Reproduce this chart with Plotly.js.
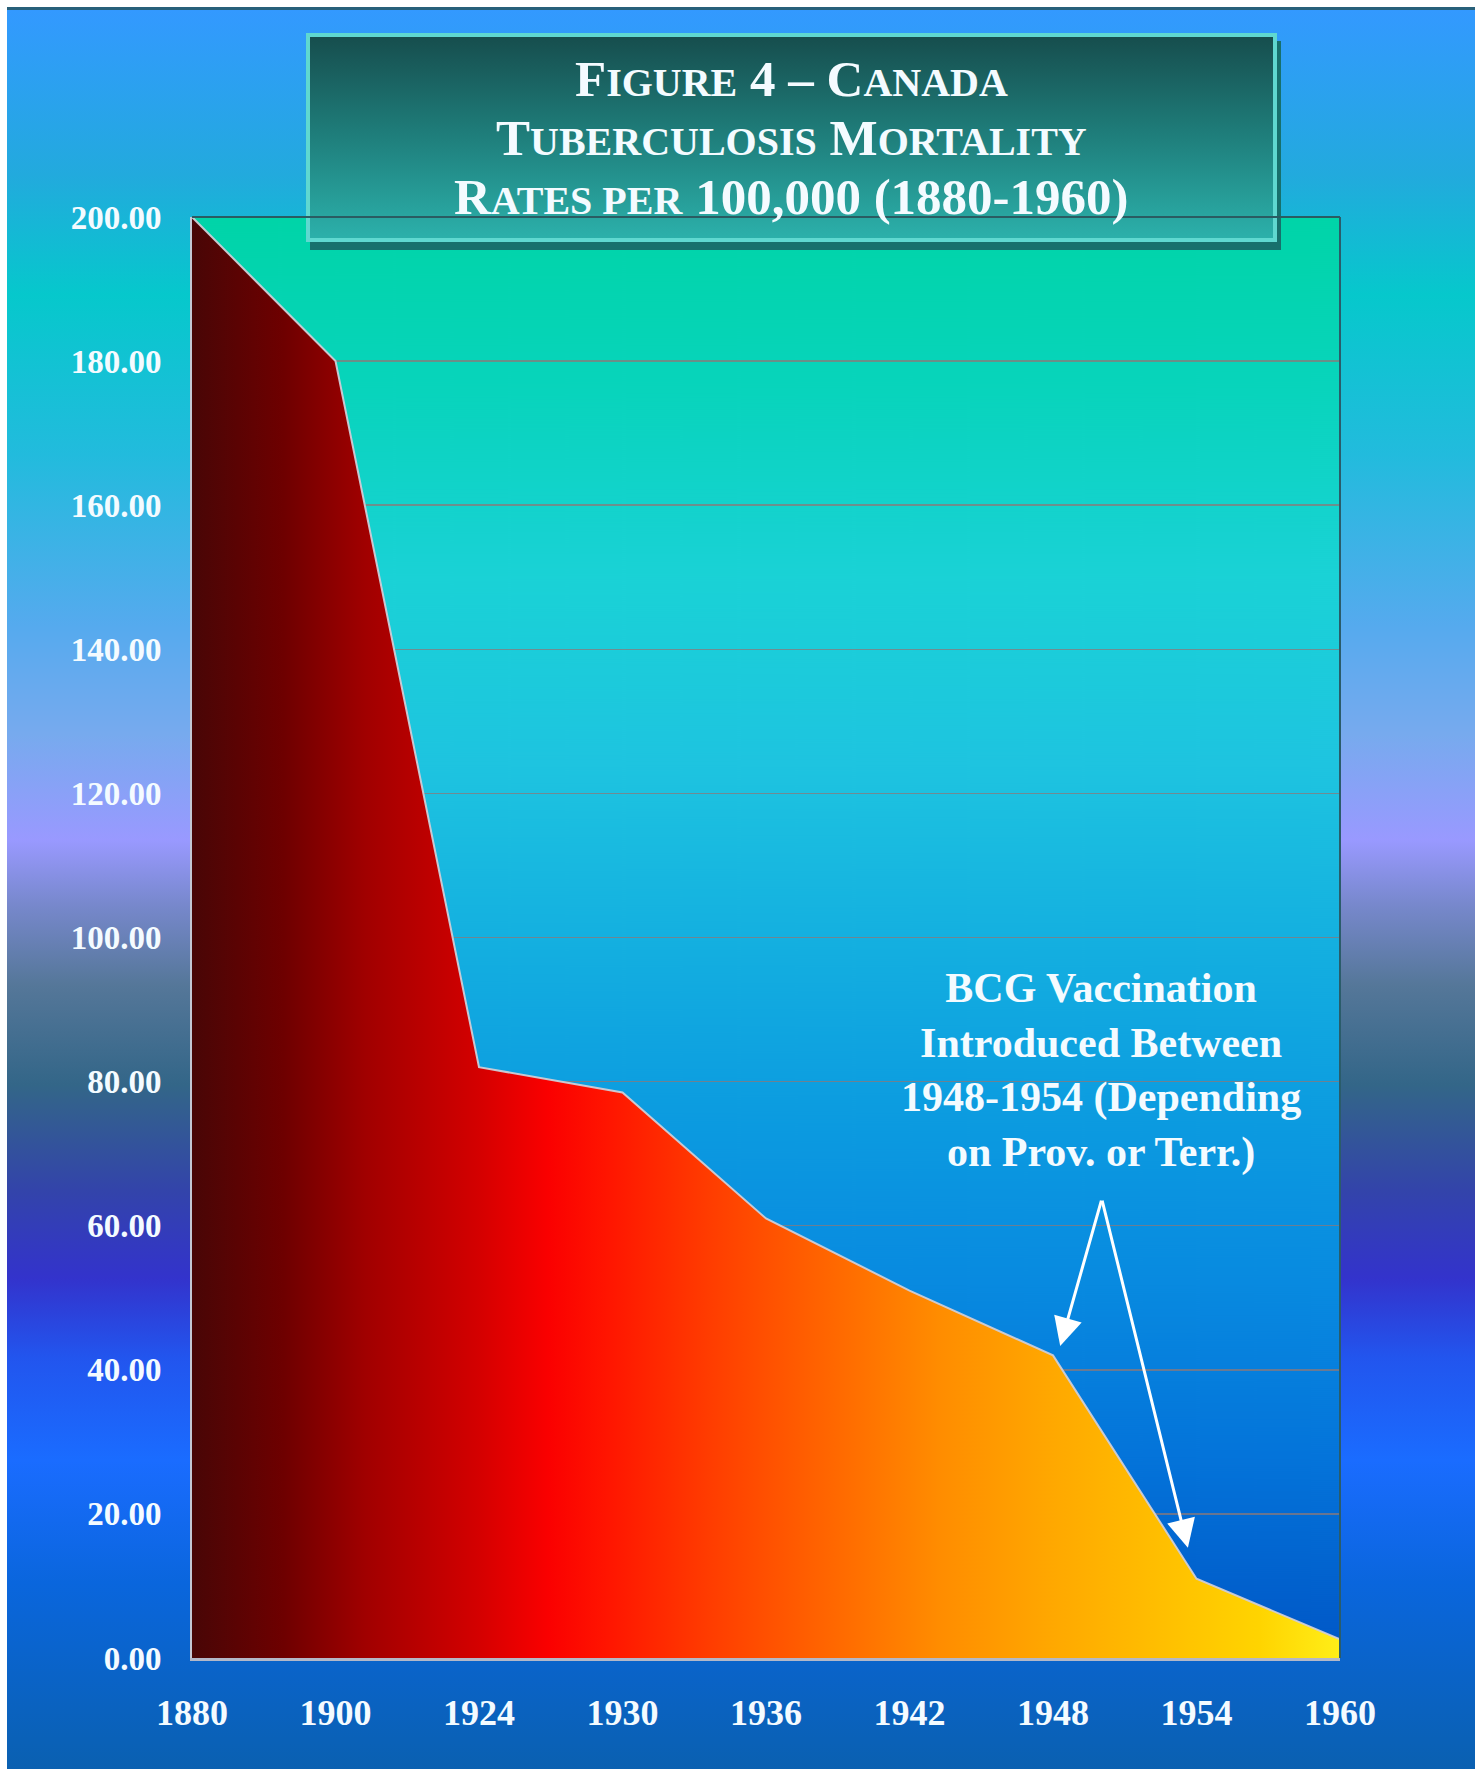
<!DOCTYPE html>
<html>
<head>
<meta charset="utf-8">
<script src="https://cdn.plot.ly/plotly-3.0.1.min.js"></script>
<style>
  html, body { margin:0; padding:0; background:#ffffff; overflow:hidden; }
  #bg {
    position:absolute; left:7px; top:7px; width:1468px; height:1762px;
    border-top:3px solid #28607a; box-sizing:border-box;
    background: linear-gradient(to bottom,
      #3399ff 0px, #22aadd 165px, #06c8cc 285px, #22bbdd 445px, #55aaee 615px,
      #77aaee 725px, #9999ff 830px, #7788cc 895px, #557799 975px, #336688 1075px,
      #3344aa 1180px, #3333cc 1268px, #2255ee 1347px, #1a6cff 1450px,
      #0a66dd 1573px, #0a60b0 1762px);
  }
  #chart { position:absolute; left:0; top:0; width:1475px; height:1769px; }
</style>
</head>
<body>
<div id="bg"></div>
<div id="chart"></div>
<script>
// ---- data ----
const years = ['1880', '1900', '1924', '1930', '1936', '1942', '1948', '1954', '1960'];
const rates = [200, 180, 82, 78.5, 61, 51, 42, 11, 2.6];

const titleLines = [
  "F<span style='font-size:40px'>IGURE</span> 4 – C<span style='font-size:40px'>ANADA</span>",
  "T<span style='font-size:40px'>UBERCULOSIS</span> M<span style='font-size:40px'>ORTALITY</span>",
  "R<span style='font-size:40px'>ATES PER</span> 100,000 (1880-1960)"
];
const noteText = 'BCG Vaccination<br>Introduced Between<br>1948-1954 (Depending<br>on Prov. or Terr.)';

// arrow geometry (category index, value)
const arrowApex = [6.34, 63.7];
const arrowTips = [[6.05, 43.3], [6.94, 15.3]];

// ---- layout geometry (px) ----
const W = 1475, H = 1769;
const PL = 192, PR = 1340, PT = 217, PB = 1658;
const pw = PR - PL, ph = PB - PT;
const px2x = X => (X - PL) / pw;
const px2y = Y => (PB - Y) / ph;

// plot-area gradient image
function plotBg() {
  const c = document.createElement('canvas');
  c.width = 20; c.height = ph;
  const g = c.getContext('2d');
  const gr = g.createLinearGradient(0, 0, 0, ph);
  gr.addColorStop(0.00, '#00d4a8');
  gr.addColorStop(0.12, '#08d4bc');
  gr.addColorStop(0.25, '#1ad2d6');
  gr.addColorStop(0.38, '#1ec4e0');
  gr.addColorStop(0.50, '#14b0e0');
  gr.addColorStop(0.62, '#0c9ce0');
  gr.addColorStop(0.74, '#088ae0');
  gr.addColorStop(0.86, '#0474da');
  gr.addColorStop(1.00, '#0056c6');
  g.fillStyle = gr; g.fillRect(0, 0, 20, ph);
  return c.toDataURL();
}

// title box image
const TB = {x0: 306, x1: 1277, y0: 33, y1: 242, sh: 8};
function titleBox() {
  const w = TB.x1 - TB.x0 + 4, h = TB.y1 - TB.y0 + TB.sh;
  const c = document.createElement('canvas');
  c.width = w; c.height = h;
  const g = c.getContext('2d');
  g.fillStyle = '#17706c';
  g.fillRect(4, TB.sh, w - 4, h - TB.sh);
  const bw = w - 4, bh = TB.y1 - TB.y0;
  const gr = g.createLinearGradient(0, 0, 0, bh);
  gr.addColorStop(0, '#164c4c');
  gr.addColorStop(0.5, '#1f7f7c');
  gr.addColorStop(1, '#2cb2ac');
  g.fillStyle = gr; g.fillRect(0, 0, bw, bh);
  g.strokeStyle = '#5fd8d0'; g.lineWidth = 4;
  g.strokeRect(2, 2, bw - 4, bh - 4);
  return c.toDataURL();
}

const trace = {
  x: years,
  y: rates,
  type: 'scatter',
  mode: 'lines',
  fill: 'tozeroy',
  line: {color: 'rgba(205,205,215,0.95)', width: 2},
  fillgradient: {
    type: 'horizontal',
    colorscale: [
      [0.00, '#480606'], [0.08, '#6e0000'], [0.15, '#a00000'], [0.25, '#d40000'],
      [0.31, '#fa0000'], [0.36, '#ff1400'], [0.45, '#ff3c00'], [0.55, '#ff6400'],
      [0.65, '#ff8c00'], [0.75, '#ffa800'], [0.85, '#ffc000'], [0.93, '#ffd400'],
      [1.00, '#ffee18']
    ]
  },
  hoverinfo: 'skip'
};

const serif = 'Liberation Serif, Times New Roman, serif';
const white = '#f4fbff';

const annotations = [];
const lineY = [79, 138, 197];
titleLines.forEach((t, i) => {
  annotations.push({
    text: '<b>' + t + '</b>', xref: 'paper', yref: 'paper',
    x: px2x((TB.x0 + TB.x1) / 2), y: px2y(lineY[i]),
    xanchor: 'center', yanchor: 'middle', showarrow: false,
    font: {family: serif, size: 51, color: white}
  });
});
annotations.push({
  text: '<b>' + noteText + '</b>', xref: 'paper', yref: 'paper',
  x: px2x(1101), y: px2y(1070), xanchor: 'center', yanchor: 'middle',
  showarrow: false, align: 'center',
  font: {family: serif, size: 42, color: white}
});
arrowTips.forEach(tp => {
  annotations.push({
    text: '', xref: 'x', yref: 'y', axref: 'x', ayref: 'y',
    x: tp[0], y: tp[1], ax: arrowApex[0], ay: arrowApex[1],
    showarrow: true, arrowhead: 2, arrowsize: 1.9, arrowwidth: 3,
    arrowcolor: '#ffffff', standoff: 0, startstandoff: 0
  });
});

const layout = {
  width: W, height: H,
  margin: {l: PL, r: W - PR, t: PT, b: H - PB, pad: 0},
  paper_bgcolor: 'rgba(0,0,0,0)',
  plot_bgcolor: 'rgba(0,0,0,0)',
  showlegend: false,
  xaxis: {
    type: 'category', range: [0, 8], showgrid: false, zeroline: false,
    showline: true, linecolor: '#b4b8c8', linewidth: 3,
    ticks: '', ticklabelstandoff: 21,
    tickfont: {family: serif, size: 36, color: white, weight: 'bold'}
  },
  yaxis: {
    range: [0, 200], dtick: 20, tick0: 0, tickformat: '.2f',
    showgrid: true, gridcolor: 'rgba(140,120,120,0.75)', gridwidth: 1.5,
    zeroline: false, showline: true, linecolor: '#c4c8d4', linewidth: 2,
    ticks: '', ticklabelstandoff: 22,
    tickfont: {family: serif, size: 33, color: white, weight: 'bold'}
  },
  shapes: [
    {type: 'line', xref: 'paper', yref: 'paper', x0: 0, x1: 1, y0: 1, y1: 1,
     line: {color: '#2a5c62', width: 2}},
    {type: 'line', xref: 'paper', yref: 'paper', x0: 1, x1: 1, y0: 0, y1: 1,
     line: {color: '#2a5c6a', width: 2}}
  ],
  images: [
    {source: plotBg(), xref: 'paper', yref: 'paper', x: 0, y: 1, sizex: 1, sizey: 1,
     xanchor: 'left', yanchor: 'top', sizing: 'stretch', layer: 'below'},
    {source: titleBox(), xref: 'paper', yref: 'paper',
     x: px2x(TB.x0), y: px2y(TB.y0),
     sizex: (TB.x1 - TB.x0 + 4) / pw, sizey: (TB.y1 - TB.y0 + TB.sh) / ph,
     xanchor: 'left', yanchor: 'top', sizing: 'stretch', layer: 'above'}
  ],
  annotations: annotations
};

Plotly.newPlot('chart', [trace], layout, {displayModeBar: false, staticPlot: true});
</script>
</body>
</html>
